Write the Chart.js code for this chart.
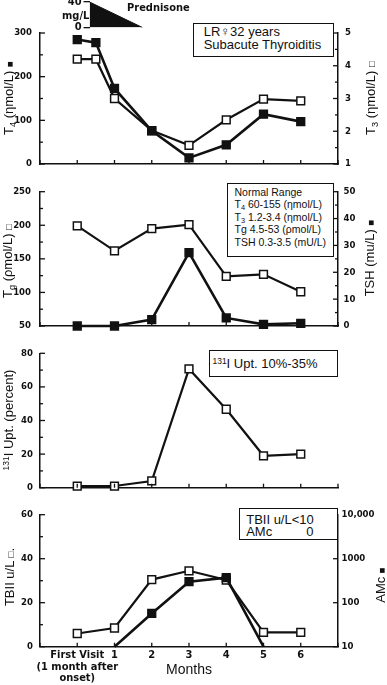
<!DOCTYPE html>
<html>
<head>
<meta charset="utf-8">
<script src="https://cdn.jsdelivr.net/npm/chart.js@4.4.1/dist/chart.umd.min.js"></script>
<style>
  body { margin: 0; background: #fff; }
  #page { position: relative; width: 387px; height: 685px; overflow: hidden;
          font-family: 'Liberation Sans', Arial, sans-serif; color: #111; }
  canvas { position: absolute; left: 0; }
  .ttl { position: absolute; white-space: nowrap; font-size: 13px; line-height: 13px;
         transform: translate(-50%, -50%) rotate(-90deg); }
  .sq { font-size: 75%; }
  .box { position: absolute; border: 1.5px solid #111; box-sizing: border-box; background: #fff; white-space: nowrap; }
  .lbl { position: absolute; white-space: nowrap; }
  .narrow { font-family: 'Liberation Sans Narrow', 'DejaVu Sans Condensed', Arial, sans-serif; font-weight: bold; }
  sub { font-size: 70%; vertical-align: -0.3em; line-height: 0; }
  sup { font-size: 65%; vertical-align: 0.45em; line-height: 0; }
</style>
</head>
<body>
<div id="page">
  <canvas id="c1" width="387" height="175" style="top:0"></canvas>
  <canvas id="c2" width="387" height="160" style="top:175px"></canvas>
  <canvas id="c3" width="387" height="165" style="top:335px"></canvas>
  <canvas id="c4" width="387" height="185" style="top:500px"></canvas>
  <canvas id="cPred" width="387" height="32" style="top:0"></canvas>

  <!-- prednisone -->
  <div class="lbl narrow" style="left:62px; top:10px; font-size:11px; line-height:11px;">mg/L</div>
  <div class="lbl narrow" style="left:127px; top:1.5px; font-size:11px; line-height:11px;">Prednisone</div>

  <!-- axis titles -->
  <div class="ttl" style="left:8.5px; top:98px;">T<sub>4</sub> (&eta;mol/L) <span class="sq">&#9632;</span></div>
  <div class="ttl" style="left:371px; top:98px;">T<sub>3</sub> (&eta;mol/L) <span class="sq">&#9633;</span></div>
  <div class="ttl" style="left:7.5px; top:261px;">T<sub>g</sub> (&rho;mol/L) <span class="sq">&#9633;</span></div>
  <div class="ttl" style="left:369.5px; top:258px;">TSH (mu/L) <span class="sq">&#9632;</span></div>
  <div class="ttl" style="left:7.5px; top:420px;"><sup>131</sup>I Upt. (percent)</div>
  <div class="ttl" style="left:10px; top:577px;">TBII u/L <span class="sq">&#9633;</span>.</div>
  <div class="ttl" style="left:381px; top:585px;">AMc <span class="sq">&#9632;</span></div>
  <div class="lbl" style="left:189px; top:662px; font-size:14px; line-height:14px; transform:translateX(-50%);">Months</div>

  <!-- notes -->
  <div class="box" style="left:192.7px; top:22.7px; width:141.3px; height:34px; padding:2.3px 0 0 10px; font-size:13px; line-height:12.7px;">
    LR&#9792;32 years<br>Subacute Thyroiditis
  </div>
  <div class="box" style="left:226.7px; top:182.7px; width:107.3px; height:74.6px; padding:2px 0 0 6.8px; font-size:10.5px; line-height:12.5px;">
    Normal Range<br>T<sub>4</sub> 60-155 (&eta;mol/L)<br>T<sub>3</sub> 1.2-3.4 (&eta;mol/L)<br>Tg 4.5-53 (&rho;mol/L)<br>TSH 0.3-3.5 (mU/L)
  </div>
  <div class="box" style="left:209px; top:350px; width:128.7px; height:26.7px; padding:6px 0 0 2.5px; font-size:13px; line-height:13px;">
    <sup>131</sup>I Upt. 10%-35%
  </div>
  <div class="box" style="left:238.7px; top:508.3px; width:99.6px; height:31.7px; padding:4.8px 0 0 6.5px; font-size:13px; line-height:11.7px;">
    TBII u/L&lt;10<br>AMc<span style="position:absolute; left:66.5px;">0</span>
  </div>
</div>

<script>
// --- Data ---
// x = months since first visit (0 = first visit, 1 month after onset)
const months = [0, 1, 2, 3, 4, 5, 6];
const t4Months = [0, 0.5, 1, 2, 3, 4, 5, 6];
const t4 = [285, 278, 173, 76, 14, 44, 114, 97];           // nmol/L (filled)
const t3 = [4.2, 4.2, 3.0, 2.02, 1.57, 2.35, 2.98, 2.93];   // nmol/L (open)
const tg = [199, 162, 195, 201, 124, 127, 101];             // pmol/L (open)
const tsh = [0, 0, 2.4, 27.3, 3.0, 0.6, 1.0];               // mU/L (filled)
const uptake = [1, 1, 4, 70.7, 46.7, 19, 20];               // percent
const tbii = [6, 8.5, 30.5, 34.5, 30.3, 6.5, 6.5];          // u/L (open)
const amc = [null, 10, 57, 300, 370, 10, null];             // log scale (filled)
const predX = [0.33, 1.75];
const predDose = [40, 0];                                    // mg/L
const xLabels = [['First Visit', '(1 month after', 'onset)'], '1', '2', '3', '4', '5', '6'];
const logTicks = [10, 100, 1000, 10000];

// --- Layout ---
const INK = '#111';
const AREA_L = 40, AREA_R = 338, X_MIN = -1, X_MAX = 7;
const NARROW = "'Liberation Sans Narrow', 'DejaVu Sans Condensed', Arial, sans-serif";
const tickFont = { family: NARROW, size: 9.5, weight: 'bold' };

const pts = (xs, ys) => xs.map((x, i) => ({ x: x, y: ys[i] }));

// small tick marks pointing into the plot, as in the print
const inTicks = {
  id: 'inTicks',
  afterDraw(chart) {
    const ctx = chart.ctx, a = chart.chartArea;
    ctx.save();
    ctx.strokeStyle = INK;
    ctx.lineWidth = 1.3;
    Object.values(chart.scales).forEach(s => {
      if (!s.options.display) return;
      s.ticks.forEach(t => {
        const p = s.getPixelForValue(t.value);
        const len = (s.axis === 'y' && t.label === '') ? 3 : 5;
        ctx.beginPath();
        if (s.position === 'left') { ctx.moveTo(a.left, p); ctx.lineTo(a.left + len, p); }
        else if (s.position === 'right') { ctx.moveTo(a.right, p); ctx.lineTo(a.right - len, p); }
        else { ctx.moveTo(p, a.bottom); ctx.lineTo(p, a.bottom - 4); }
        ctx.stroke();
      });
    });
    ctx.restore();
  }
};

function series(data, filled, axis) {
  return {
    data: data, yAxisID: axis,
    borderColor: INK, borderWidth: filled ? 2.6 : 2.2,
    pointStyle: 'rect', pointRadius: 5.5, pointBorderWidth: 1.5,
    pointBorderColor: INK, pointBackgroundColor: filled ? INK : '#fff',
    tension: 0, clip: false
  };
}

function xScale(labels, height) {
  return {
    type: 'linear', min: X_MIN, max: X_MAX,
    ticks: {
      stepSize: 1, autoSkip: false, maxRotation: 0, display: !!labels, padding: 3,
      color: INK, font: { family: NARROW, size: 11, weight: 'bold', lineHeight: 1.05 },
      callback: v => labels ? (labels[v] ?? '') : ''
    },
    grid: { display: false, drawTicks: false },
    border: { color: INK, width: 1.5 },
    afterFit: s => { s.height = height; s.paddingLeft = 0; s.paddingRight = 0; }
  };
}

function yScale(pos, min, max, step, major, width, pad) {
  return {
    type: 'linear', position: pos, min: min, max: max,
    ticks: {
      stepSize: step, autoSkip: false, padding: pad, color: INK, font: tickFont,
      callback: v => (Math.abs(v / major - Math.round(v / major)) < 1e-6 ? String(v) : '')
    },
    grid: { display: false, drawTicks: false },
    border: { color: INK, width: 1.5 },
    afterFit: s => { s.width = width; s.paddingTop = 0; s.paddingBottom = 0; }
  };
}

function panel(id, datasets, scales, top, right) {
  return new Chart(document.getElementById(id), {
    type: 'line',
    data: { datasets: datasets },
    options: {
      responsive: false, animation: false,
      layout: { padding: { top: top, left: 0, right: right, bottom: 0 } },
      plugins: { legend: { display: false }, tooltip: { enabled: false } },
      scales: scales
    },
    plugins: [inTicks]
  });
}

// Panel 1: T4 / T3
panel('c1',
  [series(pts(t4Months, t4), true, 'y'), series(pts(t4Months, t3), false, 'y1')],
  { x: xScale(null, 11), y: yScale('left', 0, 300, 50, 100, AREA_L, 8),
    y1: yScale('right', 1, 5, 0.5, 1, 387 - AREA_R, 7) },
  33, 0);

// Panel 2: Tg / TSH
panel('c2',
  [series(pts(months, tsh), true, 'y1'), series(pts(months, tg), false, 'y')],
  { x: xScale(null, 9), y: yScale('left', 50, 250, 25, 50, AREA_L, 9),
    y1: yScale('right', 0, 50, 5, 10, 387 - AREA_R, 5.5) },
  16.7, 0);

// Panel 3: 131I uptake
panel('c3',
  [series(pts(months, uptake), false, 'y')],
  { x: xScale(null, 12.3), y: yScale('left', 0, 80, 10, 20, AREA_L, 7) },
  18.3, 387 - AREA_R);

// Panel 4: TBII / AMc
const amcSet = series(pts(months, amc), true, 'y1');
amcSet.pointRadius = c => (c.raw && c.raw.y <= 10 ? 0 : 5.5);
const amcAxis = yScale('right', 10, 10000, 1, 1, 387 - AREA_R, 3.5);
amcAxis.type = 'logarithmic';
amcAxis.afterBuildTicks = s => { s.ticks = logTicks.map(v => ({ value: v })); };
amcAxis.ticks.callback = v => (v === 10000 ? '10,000' : String(v));
panel('c4',
  [amcSet, series(pts(months, tbii), false, 'y')],
  { x: xScale(xLabels, 38.3), y: yScale('left', 0, 60, 10, 20, AREA_L, 7), y1: amcAxis },
  14.7, 0);

// Prednisone wedge above panel 1, sharing its month scale
const predLeft = AREA_L + (predX[0] - X_MIN) / (X_MAX - X_MIN) * (AREA_R - AREA_L);
new Chart(document.getElementById('cPred'), {
  type: 'line',
  data: { datasets: [{
    data: pts(predX, predDose), fill: 'origin', backgroundColor: INK,
    borderColor: INK, borderWidth: 1, pointRadius: 0, tension: 0
  }] },
  options: {
    responsive: false, animation: false,
    layout: { padding: { top: 2, bottom: 4.5, left: 0, right: 387 - AREA_R } },
    plugins: { legend: { display: false }, tooltip: { enabled: false } },
    scales: {
      x: { type: 'linear', min: predX[0], max: X_MAX, display: false },
      y: {
        min: 0, max: 40,
        ticks: { stepSize: 40, autoSkip: false, padding: 2, color: INK, font: { family: NARROW, size: 11, weight: 'bold' } },
        grid: { display: true, drawOnChartArea: false, drawTicks: true, tickLength: 6, color: INK, lineWidth: 1.3 },
        border: { display: false },
        afterFit: s => { s.width = predLeft; s.paddingTop = 0; s.paddingBottom = 0; }
      }
    }
  }
});
</script>
</body>
</html>
